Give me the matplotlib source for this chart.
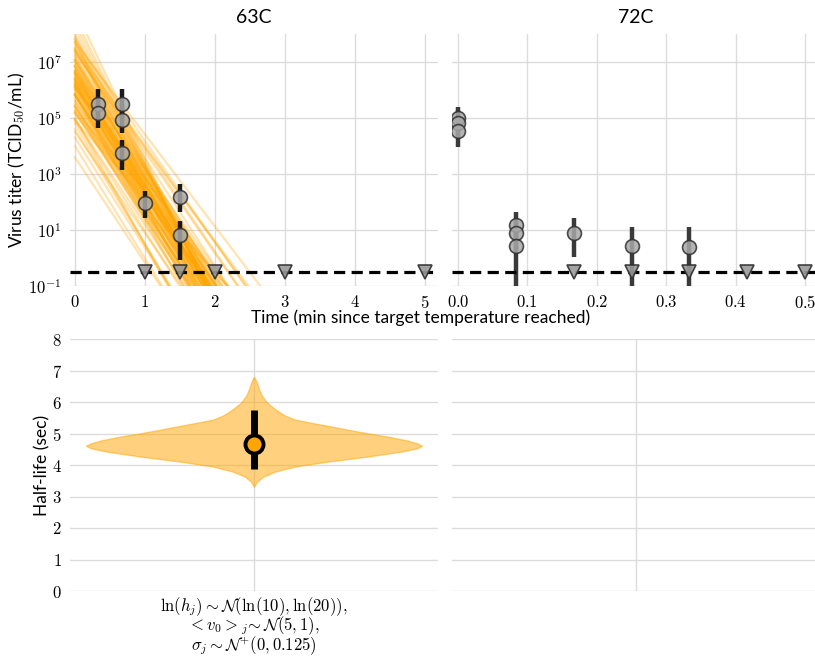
import numpy as np
import matplotlib
matplotlib.use('Agg')
import matplotlib.pyplot as plt
from matplotlib.ticker import FuncFormatter, FixedLocator

plt.rcParams['mathtext.fontset'] = 'cm'
plt.rcParams['font.family'] = ['Lato', 'DejaVu Sans']

# ---------------- data ----------------
# 63C observations (log10 titer) with credible intervals
t63 = [1/3, 1/3, 2/3, 2/3, 2/3, 1.0, 1.5, 1.5]
log63 = [5.50, 5.18, 5.50, 4.93, 3.74, 1.95, 2.19, 0.82]
log63_lo = [4.90, 4.63, 5.00, 4.45, 3.14, 1.42, 1.65, -0.07]
log63_hi = [6.02, 5.75, 6.02, 5.50, 4.21, 2.41, 2.64, 1.33]
t63_nd = [1.0, 1.5, 2.0, 3.0, 5.0]          # below detection

# 72C observations
t72 = [0.0, 0.0, 0.0, 1/12, 1/12, 1/12, 1/6, 1/4, 1/3]
log72 = [5.00, 4.82, 4.54, 1.18, 0.89, 0.43, 0.89, 0.43, 0.39]
log72_lo = [4.60, 4.30, 3.96, 0.60, 0.20, -1.50, 0.04, -1.50, -1.50]
log72_hi = [5.40, 5.30, 5.00, 1.64, 1.40, 1.00, 1.43, 1.11, 1.11]
t72_nd = [1/6, 1/4, 1/3, 5/12, 1/2]

detection_log = -0.5

# posterior draws for 63C regression lines: (log10 initial titer, half-life sec)
post_intercept = [6.20, 6.58, 5.82, 6.82, 5.60, 6.50, 6.24, 6.20, 6.43, 6.88,
                  5.46, 6.84, 5.81, 5.86, 6.68, 6.63, 6.15, 7.10, 5.28, 6.32,
                  5.38, 6.45, 6.19, 5.41, 7.23, 7.06, 5.42, 5.80, 5.84, 6.70,
                  7.08, 5.82, 6.27, 6.11, 7.38, 4.96, 7.44, 6.85, 5.16, 6.55,
                  6.00, 6.09, 7.06, 5.18, 7.84, 5.24, 6.14, 6.60, 6.09, 6.06,
                  6.67, 5.87, 6.38, 4.94, 7.42, 7.74, 4.89, 6.35, 6.39, 5.61,
                  8.90, 8.60, 8.40, 8.20, 8.00, 7.90,
                  7.70, 7.50, 7.40, 7.60, 7.30, 7.80,
                  4.60, 4.30, 4.00, 3.60, 4.80, 5.00, 4.50,
                  7.00, 6.90, 7.20, 6.70, 5.50, 5.20, 6.30, 6.60, 6.00, 5.70,
                  7.50, 7.70, 6.40, 5.90]
post_halflife = [4.60, 4.55, 4.70, 4.50, 4.65, 4.40, 4.80, 4.35, 4.90, 4.62,
                 4.58, 4.30, 5.00, 4.45, 4.75, 4.20, 5.10, 4.52, 4.68, 4.10,
                 5.20, 4.60, 4.48, 4.85, 4.00, 4.72, 4.38, 5.35, 4.25, 4.95,
                 3.85, 4.63, 4.57, 5.50, 4.15, 4.78, 4.42, 3.70, 5.80, 4.66,
                 4.53, 4.88, 4.33, 5.05, 3.55, 6.30, 4.61, 4.47, 4.74, 4.28,
                 5.15, 4.05, 4.83, 4.54, 4.69, 3.40, 6.70, 4.59, 4.36, 5.25,
                 3.40, 3.50, 3.60, 3.70, 3.80, 3.90,
                 5.50, 5.20, 5.00, 4.90, 5.40, 5.00,
                 4.40, 4.60, 4.50, 4.80, 4.20, 4.00, 5.00,
                 4.40, 4.60, 4.50, 4.30, 5.00, 4.80, 4.70, 4.50, 4.90, 4.60,
                 4.20, 4.00, 5.10, 4.30]

# violin outline for half-life (sec) and half-width (pixels at full scale)
violin_hl = [3.31, 3.47, 3.63, 3.79, 3.95, 4.11, 4.27, 4.43, 4.53, 4.61,
             4.69, 4.78, 4.90, 5.01, 5.12, 5.23, 5.33, 5.44, 5.57, 5.71,
             5.85, 5.98, 6.19, 6.40, 6.61, 6.80]
violin_w = [0.0, 3, 9, 21, 41, 74, 114, 148, 163, 168,
            163, 153, 134, 113, 94, 76, 59, 41, 31, 24,
            18, 13, 8, 5, 3, 0.0]
hl_median = 4.67
hl_lo, hl_hi = 3.87, 5.74

orange = '#FFA500'
grid_c = '#dcdcdc'

fig = plt.figure(figsize=(8.15, 6.63), dpi=100)
W, H = 815, 663
def rect(x0, x1, y0, y1):
    return [x0 / W, 1 - y1 / H, (x1 - x0) / W, (y1 - y0) / H]

ax63 = fig.add_axes(rect(70, 438, 34, 286))
ax72 = fig.add_axes(rect(452, 820, 34, 286))
axv = fig.add_axes(rect(70, 438, 339, 591))
axe = fig.add_axes(rect(452, 820, 339, 591))

for ax in (ax63, ax72, axv, axe):
    for s in ax.spines.values():
        s.set_visible(False)
    ax.grid(True, color=grid_c, lw=1.0)
    ax.set_axisbelow(True)
    ax.tick_params(length=0, labelsize=12, pad=6)

def logfmt(v, pos):
    e = int(round(np.log10(v)))
    return r'$10^{%d}$' % e

# ---- 63C ----
tt = np.array([0.0, 5.4])
for a, h in zip(post_intercept, post_halflife):
    slope = np.log10(2) / (h / 60.0)
    ax63.plot(tt, 10 ** (a - slope * tt), color=orange, lw=1.6, alpha=0.3, zorder=1)

def draw_obs(ax, t, lg, lo, hi, t_nd, ecol):
    ax.vlines(t, 10 ** np.array(lo), 10 ** np.array(hi), color=ecol, lw=3.2, zorder=3)
    ax.plot(t, 10 ** np.array(lg), 'o', ms=10, mfc='#a8a8a8', mec='#303030', mew=1.2,
            alpha=0.85, zorder=4, ls='none')
    ax.axhline(10 ** detection_log, color='black', lw=2.3, ls=(0, (3.5, 2)), zorder=3)
    ax.plot(t_nd, [10 ** detection_log] * len(t_nd), 'v', ms=10, mfc='#9a9a9a',
            mec='#303030', mew=1.2, alpha=0.9, zorder=5, ls='none')

draw_obs(ax63, t63, log63, log63_lo, log63_hi, t63_nd, '#1a1a1a')
draw_obs(ax72, t72, log72, log72_lo, log72_hi, t72_nd, '#3a3a3a')

for ax in (ax63, ax72):
    ax.set_yscale('log')
    ax.set_ylim(1e-1, 1e8)
    ax.yaxis.set_major_locator(FixedLocator([1e-1, 1e1, 1e3, 1e5, 1e7]))
    ax.yaxis.set_minor_locator(FixedLocator([]))
    ax.yaxis.set_major_formatter(FuncFormatter(logfmt))

ax63.set_xlim(-0.07, 5.19)
ax63.set_xticks([0, 1, 2, 3, 4, 5])
ax63.xaxis.set_major_formatter(FuncFormatter(lambda v, p: r'$%d$' % v))
ax72.set_xlim(-0.0086, 0.5214)
ax72.set_xticks([0.0, 0.1, 0.2, 0.3, 0.4, 0.5])
ax72.xaxis.set_major_formatter(FuncFormatter(lambda v, p: r'$%.1f$' % v))
ax72.tick_params(labelleft=False)

ax63.set_title('63C', fontsize=14, pad=8)
ax72.set_title('72C', fontsize=14, pad=8)
ax63.set_ylabel(r'Virus titer (TCID$_{50}$/mL)', fontsize=12.5, labelpad=1)
fig.text(421 / W, 1 - 318 / H, 'Time (min since target temperature reached)',
         ha='center', va='center', fontsize=12.5)

# ---- violin ----
scale = 1.0 / 368.0
hw = np.array(violin_w) * scale
axv.fill_betweenx(violin_hl, -hw, hw, color=orange, alpha=0.5, lw=1.0, zorder=2)
axv.vlines([0], hl_lo, hl_hi, color='black', lw=5, zorder=3)
axv.plot([0], [hl_median], 'o', ms=13, mfc=orange, mec='black', mew=2.8, zorder=4)
axv.set_xlim(-0.5, 0.5)
axv.set_ylim(0, 8)
axv.set_yticks(range(0, 9))
axv.yaxis.set_major_formatter(FuncFormatter(lambda v, p: r'$%d$' % v))
axv.set_xticks([0])
axv.set_xticklabels([r'$\ln(h_j) \sim \mathcal{N}(\ln(10), \ln(20)),$' + '\n' +
                     r'$< v_0 >_j\!\sim \mathcal{N}(5, 1),$' + '\n' +
                     r'$\sigma_j \sim \mathcal{N}^{+}(0, 0.125)$'], fontsize=12)
for lbl in axv.get_xticklabels():
    lbl.set_linespacing(0.8)
axv.tick_params(axis='x', pad=3)
axv.set_ylabel('Half-life (sec)', fontsize=12.5, labelpad=1)

axe.set_xlim(-0.5, 0.5)
axe.set_ylim(0, 8)
axe.set_yticks(range(0, 9))
axe.set_xticks([0])
axe.tick_params(labelleft=False, labelbottom=False)

fig.savefig('out.png', dpi=100)
